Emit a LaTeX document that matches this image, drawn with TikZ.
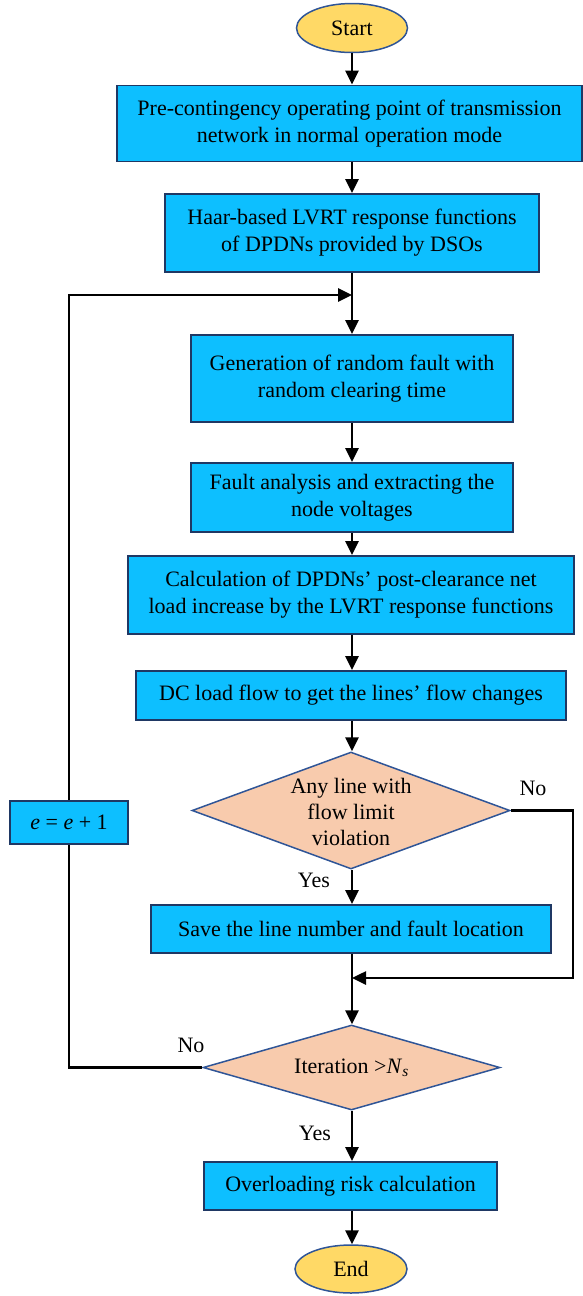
\documentclass[tikz,border=0pt]{standalone}
\usepackage{fontspec}
\setmainfont{Liberation Serif}
\usetikzlibrary{shapes.geometric,arrows.meta}
\definecolor{boxfill}{HTML}{0DBFFF}
\definecolor{boxline}{HTML}{1F3864}
\definecolor{dfill}{HTML}{F8CBAD}
\definecolor{dline}{HTML}{2F5597}
\definecolor{efill}{HTML}{FFD966}
\tikzset{
  procbox/.style={draw=boxline, fill=boxfill, line width=1.8pt, rectangle, inner sep=0pt, align=center, font=\fontsize{22}{27}\selectfont},
  decbox/.style={draw=dline, fill=dfill, line width=1.5pt, diamond, inner sep=0pt},
  termbox/.style={draw=dline, fill=efill, line width=1.5pt, ellipse, inner sep=0pt, font=\fontsize{22}{27}\selectfont},
  dtext/.style={align=center, inner sep=0pt, font=\fontsize{22}{26}\selectfont},
  lbl/.style={inner sep=0pt, font=\fontsize{22}{26}\selectfont},
  conn/.style={line width=2.6pt, -{Triangle[width=13pt,length=14pt]}},
  plainconn/.style={line width=2.6pt}
}
\begin{document}
\begin{tikzpicture}[x=1pt,y=1pt]
\useasboundingbox (0,0) rectangle (583,-1296);
\node[termbox, minimum width=111, minimum height=49] (start) at (352,-28) {Start};
\node[procbox, minimum width=465, minimum height=76] (b1) at (349.5,-123.5) {Pre-contingency operating point of transmission\\network in normal operation mode};
\node[procbox, minimum width=374, minimum height=78] (b2) at (352,-233) {Haar-based LVRT response functions\\of DPDNs provided by DSOs};
\coordinate (looptop) at (352,-295);
\node[procbox, minimum width=322, minimum height=87] (b3) at (352,-378.5) {Generation of random fault with\\random clearing time};
\node[procbox, minimum width=322, minimum height=69] (b4) at (352,-497.5) {Fault analysis and extracting the\\node voltages};
\node[procbox, minimum width=446, minimum height=78] (b5) at (351,-595) {Calculation of DPDNs' post-clearance net\\load increase by the LVRT response functions};
\node[procbox, minimum width=430, minimum height=49] (b6) at (351,-695.5) {DC load flow to get the lines' flow changes};
\node[decbox, minimum width=318, minimum height=117] (d1) at (351,-810.5) {};
\node[dtext] (d1t) at (351,-812) {Any line with\\flow limit\\violation};
\node[procbox, minimum width=400, minimum height=48] (b7) at (351,-929) {Save the line number and fault location};
\coordinate (merge) at (352,-978);
\node[decbox, minimum width=297, minimum height=85] (d2) at (351.5,-1067.5) {};
\node[dtext] (d2t) at (351.5,-1067.5) {Iteration >\textit{N}\textsubscript{\textit{s}}};
\node[procbox, minimum width=293, minimum height=48] (b8) at (350.5,-1186) {Overloading risk calculation};
\node[termbox, minimum width=112, minimum height=48] (end) at (351,-1269) {End};
\node[procbox, minimum width=118, minimum height=43] (eq) at (69,-822.5) {\textit{e} = \textit{e} + 1};
\coordinate (rc1) at (573,-810.5);
\coordinate (rc2) at (573,-978);
\coordinate (lc1) at (69,-1067.5);
\coordinate (lc2) at (69,-295);
% labels
\node[lbl] (no1) at (533,-788) {No};
\node[lbl] (yes1) at (314,-880) {Yes};
\node[lbl] (no2) at (191,-1045) {No};
\node[lbl] (yes2) at (315,-1133) {Yes};
% connectors
\draw[conn] (start.south) -- (start.south |- b1.north);
\draw[conn] (352,-161.5) -- (b2.north);
\draw[conn] (b2.south) -- (b3.north);
\draw[conn] (b3.south) -- (b4.north);
\draw[conn] (b4.south) -- (b4.south |- b5.north);
\draw[conn] (b4.south |- b5.south) -- (b4.south |- b6.north);
\draw[conn] (b4.south |- b6.south) -- (b4.south |- d1.north);
\draw[conn] (b4.south |- d1.south) -- (b4.south |- b7.north);
\draw[conn] (b4.south |- b7.south) -- (b4.south |- d2.north);
\draw[conn] (b4.south |- d2.south) -- (b4.south |- b8.north);
\draw[conn] (b4.south |- b8.south) -- (b4.south |- end.north);
\draw[conn] (d1.east) -- (rc1) -- (rc2) -- (merge);
\draw[plainconn] (d2.west) -- (lc1) -- (eq.south);
\draw[conn] (eq.north) -- (lc2) -- (looptop);
\end{tikzpicture}
\end{document}
